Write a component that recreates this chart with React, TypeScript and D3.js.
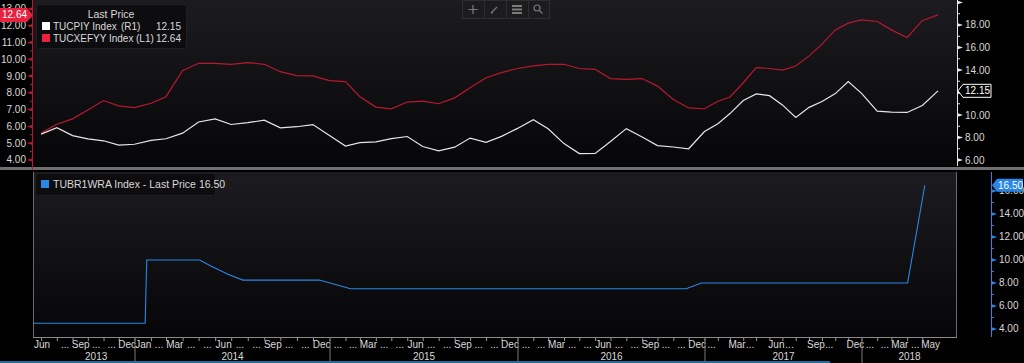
import * as d3 from "d3";

// monthly series, Jun 2013 .. May 2018
const monthStart = new Date(2013, 5, 1);
const cpiHeadline = [
  8.30, 8.88, 8.17, 7.88, 7.71, 7.32, 7.40,
  7.75, 7.89, 8.39, 9.38, 9.66, 9.16, 9.32, 9.54, 8.86, 8.96, 9.15, 8.17,
  7.24, 7.55, 7.61, 7.91, 8.09, 7.20, 6.81, 7.14, 7.95, 7.58, 8.10, 8.81,
  9.58, 8.78, 7.46, 6.57, 6.58, 7.64, 8.79, 8.05, 7.28, 7.16, 7.00, 8.53,
  9.22, 10.13, 11.29, 11.87, 11.72, 10.90, 9.79, 10.68, 11.20, 11.90, 12.98, 11.92,
  10.35, 10.26, 10.23, 10.85, 12.15,
];
const cpiCore = [
  5.60, 6.13, 6.45, 6.98, 7.54, 7.22, 7.12,
  7.38, 7.77, 9.32, 9.76, 9.76, 9.70, 9.80, 9.70, 9.26, 9.02, 9.01, 8.73,
  8.67, 7.77, 7.15, 7.05, 7.45, 7.50, 7.35, 7.70, 8.30, 8.90, 9.20, 9.45,
  9.60, 9.70, 9.70, 9.45, 9.40, 8.85, 8.80, 8.85, 8.40, 7.60, 7.10, 7.05,
  7.50, 7.75, 8.60, 9.50, 9.45, 9.35, 9.60, 10.20, 10.90, 11.75, 12.15, 12.35,
  12.25, 11.75, 11.30, 12.30, 12.64,
];
// one-week repo rate observations
const repoDates = [
  "2013-06-14", "2014-01-20", "2014-01-23", "2014-05-02", "2014-05-22",
  "2014-06-24", "2014-07-22", "2014-12-12", "2015-01-20", "2015-02-10",
  "2016-11-25", "2016-12-25", "2018-04-01", "2018-05-05",
];
const repoValues = [4.5, 4.5, 10, 10, 9.5, 8.75, 8.25, 8.25, 7.75, 7.5, 7.5, 8.0, 8.0, 16.5];

const monthNames: Record<number, string> = { 0: "Jan", 2: "Mar", 4: "May", 5: "Jun", 8: "Sep", 11: "Dec" };

const font = "Liberation Sans, Arial, sans-serif";
const FS = 10;
const W = 1024;
const H = 363;
const plotL = 33;
const plotR = 957;
const topT = 0;
const topB = 166;
const botT = 172;
const botB = 337;
const botAxisX = 991;

const RED = "#b8182f";
const RED_BOX = "#e8213f";
const WHITE = "#e6e6e6";
const BLUE = "#2a86e6";
const TXT = "#d9d9d9";

export default function App() {
  // Bloomberg's axis follows the observations, so the years do not have equal widths
  const x = d3
    .scaleTime()
    .domain([
      new Date(2013, 5, 14), new Date(2014, 0, 1), new Date(2015, 0, 1), new Date(2016, 0, 1),
      new Date(2017, 0, 1), new Date(2018, 0, 1), new Date(2018, 4, 31), new Date(2018, 6, 7),
    ])
    .range([plotL, 135, 330, 518, 705, 862, 938, plotR]);

  const yL = d3.scaleLinear().domain([3.64, 13.53]).range([topB, topT]);
  const yR = d3.scaleLinear().domain([5.47, 20.22]).range([topB, topT]);
  const yB = d3.scaleLinear().domain([3.3, 17.65]).range([botB, botT]);

  const months = d3.timeMonth.range(monthStart, new Date(2018, 5, 1));
  const monthEnd = (m: Date) => d3.timeDay.offset(d3.timeMonth.offset(m, 1), -1);

  const headPts: [Date, number][] = months.map((m, i) => [monthEnd(m), cpiHeadline[i]]);
  const corePts: [Date, number][] = months.map((m, i) => [monthEnd(m), cpiCore[i]]);
  const parse = d3.timeParse("%Y-%m-%d");
  const repoPts: [Date, number][] = repoDates.map((d, i) => [parse(d)!, repoValues[i]]);

  const lineL = d3.line<[Date, number]>().x(d => x(d[0])).y(d => yL(d[1]));
  const lineR = d3.line<[Date, number]>().x(d => x(d[0])).y(d => yR(d[1]));
  const lineB = d3.line<[Date, number]>().x(d => x(d[0])).y(d => yB(d[1]));

  const leftTicks = d3.range(4, 14);
  const leftMinor = d3.range(4.5, 13.5, 1);
  const rightTicks = d3.range(6, 21, 2);
  const rightMinor = d3.range(7, 21, 2);
  const botTicks = d3.range(4, 17, 2);
  const botMinor = d3.range(5, 17, 2);

  const lastHead = cpiHeadline[cpiHeadline.length - 1];
  const lastCore = cpiCore[cpiCore.length - 1];
  const lastRepo = repoValues[repoValues.length - 1];

  const years = [2013, 2014, 2015, 2016, 2017, 2018];
  const yearStart = (y: number) => (y === 2013 ? x(new Date(2013, 7, 1)) : x(new Date(y, 0, 1)));
  const yearEnd = (y: number) => (y === 2018 ? plotR : x(new Date(y + 1, 0, 1)));
  const d0 = x.domain()[0];
  const d1 = x.domain()[x.domain().length - 1];

  const monthLabel = (m: Date, i: number) => {
    const mo = m.getMonth();
    const last = i === months.length - 1;
    if (i === 0 || last) return monthNames[mo];
    if (i === 1) return "";
    if (mo % 3 === 2) return monthNames[mo];
    if (mo === 0 && m.getFullYear() === 2014) return "Jan";
    const w = x(d3.timeMonth.offset(m, 1)) - x(m);
    if (w < 14 && mo % 3 === 1) return "";
    return "...";
  };

  return (
    <svg width={W} height={H} style={{ position: "absolute", left: 0, top: 0, background: "#000" }} fontFamily={font}>
      <defs>
        <linearGradient id="bg" x1="0" y1="0" x2="0" y2="1">
          <stop offset="0" stopColor="#1c1c20" />
          <stop offset="1" stopColor="#060608" />
        </linearGradient>
        <clipPath id="clipTop">
          <rect x={plotL} y={topT} width={plotR - plotL} height={topB - topT} />
        </clipPath>
        <clipPath id="clipBot">
          <rect x={plotL} y={botT} width={plotR - plotL} height={botB - botT} />
        </clipPath>
        <clipPath id="clipLeftTop">
          <rect x={0} y={0} width={plotL} height={yL(lastCore) - 7} />
        </clipPath>
      </defs>
      <rect x={0} y={0} width={W} height={H} fill="#000" />
      {/* panels */}
      <rect x={plotL} y={topT} width={plotR - plotL} height={topB - topT} fill="url(#bg)" />
      <rect x={plotL} y={botT} width={plotR - plotL} height={botB - botT} fill="url(#bg)" />
      <rect x={0} y={topB + 1} width={W} height={3} fill="#6f6f72" />
      <line x1={plotL + 0.5} x2={plotL + 0.5} y1={botT} y2={botB} stroke="#6a6a6a" />
      <line x1={plotR - 0.5} x2={plotR - 0.5} y1={botT} y2={botB} stroke="#6a6a6a" />
      <line x1={plotL} x2={plotR} y1={botB + 0.5} y2={botB + 0.5} stroke="#8a8a8a" />

      {/* toolbar */}
      <g transform="translate(462,0)">
        <rect x={0.5} y={0.5} width={87} height={18} fill="#1c1c1e" stroke="#2e2e30" />
        {[22, 44, 66].map(d => (
          <line key={d} x1={d + 0.5} x2={d + 0.5} y1={1} y2={18} stroke="#2e2e30" />
        ))}
        <g stroke="#7a7a7a" strokeWidth={1.2} fill="none">
          <path d="M11,5 V14 M6.5,9.5 H15.5" />
          <path d="M29,13 L35,7 M29,13 L31,13" />
          <path d="M50,6 H60 M50,9.5 H60 M50,13 H60" strokeWidth={2} />
          <circle cx={75} cy={8} r={3} />
          <path d="M77,10 L80.5,13.5" />
        </g>
      </g>

      {/* top panel lines */}
      <g clipPath="url(#clipTop)">
        <path d={lineL(corePts) || undefined} fill="none" stroke={RED} strokeWidth={1.2} />
        <path d={lineR(headPts) || undefined} fill="none" stroke={WHITE} strokeWidth={1.2} />
      </g>

      {/* left axis (L1) */}
      <line x1={plotL - 0.5} x2={plotL - 0.5} y1={0} y2={topB + 4} stroke={RED} />
      {leftMinor.map(v => (
        <line key={v} x1={plotL - 3} x2={plotL} y1={yL(v)} y2={yL(v)} stroke={RED} />
      ))}
      {leftTicks.map(v => (
        <g key={v}>
          <path d={`M${plotL},${yL(v) - 2} L${plotL - 6},${yL(v)} L${plotL},${yL(v) + 2}Z`} fill={RED} />
          <text
            x={plotL - 7}
            y={yL(v)}
            dy="0.35em"
            textAnchor="end"
            fontSize={FS}
            fill={TXT}
            clipPath={v > 12.5 ? "url(#clipLeftTop)" : undefined}
          >
            {v.toFixed(2)}
          </text>
        </g>
      ))}
      <path
        d={`M0,${yL(lastCore) - 7} H${plotL - 6} L${plotL},${yL(lastCore)} L${plotL - 6},${yL(lastCore) + 7} H0Z`}
        fill={RED_BOX}
      />
      <text x={2} y={yL(lastCore)} dy="0.35em" fontSize={FS} fill="#fff">
        {lastCore.toFixed(2)}
      </text>

      {/* right axis (R1) */}
      <line x1={plotR + 0.5} x2={plotR + 0.5} y1={0} y2={topB} stroke={WHITE} />
      {rightMinor.map(v => (
        <line key={v} x1={plotR} x2={plotR + 3} y1={yR(v)} y2={yR(v)} stroke={WHITE} />
      ))}
      {rightTicks.map(v => (
        <g key={v}>
          <path d={`M${plotR},${yR(v) - 2} L${plotR + 6},${yR(v)} L${plotR},${yR(v) + 2}Z`} fill={WHITE} />
          {v < 20 && (
            <text x={plotR + 8} y={yR(v)} dy="0.35em" fontSize={FS} fill={TXT}>
              {v.toFixed(2)}
            </text>
          )}
        </g>
      ))}
      <path
        d={`M${plotR + 1},${yR(lastHead)} L${plotR + 6},${yR(lastHead) - 6.5} H${plotR + 34} V${yR(lastHead) + 6.5} H${plotR + 6}Z`}
        fill="#000"
        stroke="#fff"
      />
      <text x={plotR + 8} y={yR(lastHead)} dy="0.35em" fontSize={FS} fill="#fff">
        {lastHead.toFixed(2)}
      </text>

      {/* top legend */}
      <rect x={36.5} y={4.5} width={150} height={44} rx={3} fill="#0d0d0f" stroke="#1f1f22" />
      <text x={111} y={14} dy="0.35em" textAnchor="middle" fontSize={10.5} fill={TXT}>
        Last Price
      </text>
      <rect x={42} y={22} width={8} height={8} fill="#fff" />
      <text x={53} y={26} dy="0.35em" fontSize={FS} fill={TXT}>TUCPIY Index</text>
      <text x={121} y={26} dy="0.35em" fontSize={FS} fill={TXT}>(R1)</text>
      <text x={181} y={26} dy="0.35em" textAnchor="end" fontSize={FS} fill={TXT}>
        {lastHead.toFixed(2)}
      </text>
      <rect x={42} y={34} width={8} height={8} fill={RED_BOX} />
      <text x={53} y={38} dy="0.35em" fontSize={FS} fill={TXT}>TUCXEFYY Index</text>
      <text x={136} y={38} dy="0.35em" fontSize={FS} fill={TXT}>(L1)</text>
      <text x={181} y={38} dy="0.35em" textAnchor="end" fontSize={FS} fill={TXT}>
        {lastCore.toFixed(2)}
      </text>

      {/* bottom panel */}
      <g clipPath="url(#clipBot)">
        <path d={lineB(repoPts) || undefined} fill="none" stroke={BLUE} strokeWidth={1.1} />
      </g>
      <line x1={botAxisX + 0.5} x2={botAxisX + 0.5} y1={botT} y2={botB} stroke={BLUE} />
      {botMinor.map(v => (
        <line key={v} x1={botAxisX} x2={botAxisX + 3} y1={yB(v)} y2={yB(v)} stroke={BLUE} />
      ))}
      {botTicks.map(v => (
        <g key={v}>
          <path d={`M${botAxisX},${yB(v) - 2} L${botAxisX + 6},${yB(v)} L${botAxisX},${yB(v) + 2}Z`} fill={BLUE} />
          <text x={botAxisX + 8} y={yB(v)} dy="0.35em" fontSize={FS} fill={TXT}>
            {v.toFixed(2)}
          </text>
        </g>
      ))}
      <path
        d={`M${botAxisX + 1},${yB(lastRepo)} L${botAxisX + 6},${yB(lastRepo) - 6.5} H${botAxisX + 32} V${yB(lastRepo) + 6.5} H${botAxisX + 6}Z`}
        fill={BLUE}
      />
      <text x={botAxisX + 7} y={yB(lastRepo)} dy="0.35em" fontSize={FS} fill="#fff">
        {lastRepo.toFixed(2)}
      </text>
      <rect x={35.5} y={173.5} width={180} height={22} rx={3} fill="#0d0d0f" stroke="#1f1f22" />
      <rect x={41} y={180} width={8} height={8} fill={BLUE} />
      <text x={53} y={184.5} dy="0.35em" fontSize={10.5} fill={TXT}>
        TUBR1WRA Index - Last Price {lastRepo.toFixed(2)}
      </text>

      {/* x axis */}
      {months
        .filter(m => m >= d0)
        .map(m => (
          <line key={+m} x1={x(m)} x2={x(m)} y1={botB + 1} y2={botB + 4} stroke="#9a9a9a" />
        ))}
      {months.map((m, i) => {
        const a = x(m < d0 ? d0 : m);
        const nxt = d3.timeMonth.offset(m, 1);
        const b = x(nxt > d1 ? d1 : nxt);
        return (
          <text
            key={+m}
            x={i === 0 ? plotL + 1 : (a + b) / 2}
            y={344}
            dy="0.35em"
            textAnchor={i === 0 ? "start" : "middle"}
            fontSize={FS}
            fill={TXT}
          >
            {monthLabel(m, i)}
          </text>
        );
      })}
      {years.slice(1).map(y => (
        <line key={y} x1={x(new Date(y, 0, 1))} x2={x(new Date(y, 0, 1))} y1={339} y2={H} stroke="#7a7a7a" />
      ))}
      {years.map(y => (
        <text key={y} x={(yearStart(y) + yearEnd(y)) / 2} y={356} dy="0.35em" textAnchor="middle" fontSize={FS} fill={TXT}>
          {y}
        </text>
      ))}
      <line x1={0} x2={830} y1={362} y2={362} stroke="#1f6f96" strokeWidth={2} />
    </svg>
  );
}
